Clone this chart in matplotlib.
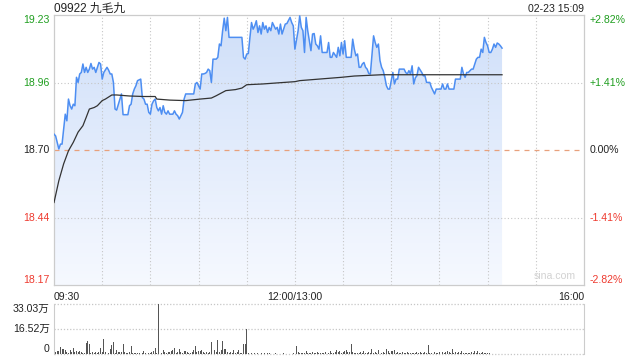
import numpy as np
import matplotlib.pyplot as plt
from matplotlib.patches import Polygon
from matplotlib.colors import LinearSegmentedColormap

plt.rcParams['font.family'] = ['Liberation Sans', 'Noto Sans CJK SC', 'DejaVu Sans']

stock_title = '09922 九毛九'
stamp = '02-23 15:09'
prev_close = 18.70
price_labels = ['19.23', '18.96', '18.70', '18.44', '18.17']
pct_labels = ['+2.82%', '+1.41%', '0.00%', '-1.41%', '-2.82%']
pct_levels = [2.82, 1.41, 0.0, -1.41, -2.82]
time_labels = ['09:30', '12:00/13:00', '16:00']
vol_labels = ['33.03万', '16.52万', '0']
vol_levels = [33.03, 16.52, 0]

# minute index since 09:30 (lunch break removed) and last price
price_minute = [0, 1, 3, 4, 5, 7, 8, 9, 10, 11, 12, 13, 14, 15, 16, 17, 18, 19, 20, 21,
                22, 23, 24, 25, 26, 28, 29, 30, 31, 33, 34, 35, 36, 37, 38, 39, 41, 42, 43, 46,
                47, 48, 49, 50, 51, 52, 54, 55, 56, 57, 58, 59, 60, 61, 62, 63, 64, 65, 66, 67,
                68, 69, 70, 71, 72, 74, 75, 76, 77, 78, 79, 80, 81, 82, 84, 87, 88, 89, 90, 91,
                92, 93, 94, 95, 96, 97, 98, 99, 101, 102, 103, 104, 105, 106, 107, 108, 109, 117, 118, 119,
                120, 121, 122, 123, 124, 125, 126, 127, 128, 129, 130, 131, 132, 133, 134, 135, 136, 137, 138, 139,
                140, 141, 142, 143, 144, 145, 147, 148, 149, 150, 152, 153, 154, 155, 156, 157, 158, 159, 160, 161,
                162, 163, 164, 165, 166, 167, 170, 171, 172, 173, 174, 176, 177, 178, 179, 180, 181, 182, 185, 186,
                187, 188, 189, 190, 191, 192, 193, 194, 195, 196, 197, 199, 200, 201, 202, 203, 204, 205, 206, 207,
                208, 209, 210, 211, 212, 213, 214, 215, 218, 219, 220, 221, 222, 223, 224, 225, 226, 227, 229, 230,
                231, 232, 234, 235, 236, 237, 238, 241, 242, 243, 244, 245, 246, 249, 250, 253, 254, 255, 256, 257,
                258, 260, 261, 262, 263, 264, 265, 266, 267, 268, 269, 270, 271, 272, 273, 274, 275, 276, 277, 278,
                279]
price_value = [18.762, 18.755, 18.704, 18.723, 18.723, 18.840, 18.814, 18.899, 18.873, 18.860,
               18.879, 18.873, 18.984, 18.964, 18.997, 19.003, 19.036, 19.003, 19.023, 19.003,
               19.016, 19.038, 19.016, 19.023, 19.003, 19.042, 19.036, 18.977, 19.003, 19.023,
               19.012, 18.997, 18.997, 18.964, 18.860, 18.856, 18.899, 18.919, 18.838, 18.838,
               18.873, 18.879, 18.919, 18.938, 18.951, 18.971, 18.977, 18.905, 18.899, 18.879,
               18.879, 18.847, 18.840, 18.879, 18.892, 18.899, 18.866, 18.853, 18.866, 18.840,
               18.873, 18.847, 18.840, 18.853, 18.840, 18.840, 18.853, 18.840, 18.834, 18.821,
               18.834, 18.847, 18.899, 18.919, 18.919, 18.919, 18.958, 18.964, 18.951, 18.938,
               18.997, 18.997, 18.999, 19.003, 19.016, 19.010, 18.964, 19.055, 19.055, 19.062,
               19.114, 19.107, 19.166, 19.215, 19.166, 19.218, 19.140, 19.140, 19.062, 19.055,
               19.075, 19.077, 19.140, 19.198, 19.172, 19.185, 19.205, 19.159, 19.185, 19.153,
               19.198, 19.172, 19.185, 19.159, 19.179, 19.166, 19.198, 19.185, 19.172, 19.179,
               19.153, 19.192, 19.153, 19.172, 19.192, 19.194, 19.218, 19.198, 19.185, 19.094,
               19.166, 19.224, 19.179, 19.166, 19.081, 19.218, 19.166, 19.127, 19.088, 19.153,
               19.155, 19.114, 19.107, 19.094, 19.146, 19.081, 19.081, 19.120, 19.062, 19.062,
               19.081, 19.062, 19.101, 19.068, 19.120, 19.075, 19.127, 19.062, 19.062, 19.133,
               19.094, 19.068, 19.075, 19.023, 19.023, 19.036, 19.042, 19.023, 19.016, 18.999,
               18.997, 19.146, 19.120, 19.101, 19.114, 19.049, 19.023, 19.010, 18.984, 18.951,
               18.938, 18.938, 18.971, 19.003, 18.958, 18.977, 18.977, 19.016, 19.016, 19.003,
               18.997, 19.010, 18.997, 19.029, 18.958, 18.982, 18.990, 19.023, 19.003, 18.990,
               18.990, 18.964, 18.964, 18.945, 18.932, 18.919, 18.938, 18.938, 18.958, 18.938,
               18.938, 18.958, 18.938, 18.938, 18.977, 18.977, 19.023, 18.997, 18.984, 19.003,
               19.003, 19.016, 19.016, 19.036, 19.055, 19.062, 19.062, 19.094, 19.081, 19.140,
               19.120, 19.107, 19.081, 19.081, 19.094, 19.114, 19.101, 19.118, 19.114, 19.107,
               19.098]

# average price line
avg_minute = [0, 3, 6, 9, 12, 15, 18, 20, 22, 25, 27, 30, 32, 36, 39, 47, 56, 63, 64, 72,
              82, 91, 98, 101, 107, 113, 117, 120, 130, 141, 150, 153, 179, 187, 204, 254, 279]
avg_value = [18.495, 18.580, 18.646, 18.697, 18.730, 18.770, 18.795, 18.827, 18.860, 18.866,
             18.873, 18.893, 18.899, 18.915, 18.915, 18.911, 18.909, 18.909, 18.899, 18.895,
             18.893, 18.899, 18.903, 18.912, 18.932, 18.936, 18.942, 18.955, 18.958, 18.963,
             18.967, 18.971, 18.984, 18.989, 18.994, 18.994, 18.994]

# volume per minute, in 万 shares
vol_am = [8.4, 1.8, 2.2, 2.4, 5.1, 3.5, 3.3, 2.9, 1.8, 1.1, 2.9, 1.8, 4.6, 1.8, 2.2, 1.8, 2.2, 1.8, 1.3, 1.1,
          7.7, 9.0, 6.8, 1.3, 1.8, 1.3, 1.8, 1.3, 1.8, 4.0, 1.8, 10.1, 1.8, 1.1, 1.1, 3.5, 6.2, 8.2, 1.1, 2.9,
          1.8, 1.8, 1.8, 6.8, 1.8, 1.1, 0.7, 1.8, 5.5, 1.1, 0.7, 0.7, 0.9, 0.7, 0.2, 0.7, 2.4, 0.7, 0.2, 0.7,
          0.7, 1.8, 2.2, 4.0, 1.1, 33.03, 1.1, 1.3, 2.9, 1.8, 1.1, 1.8, 1.8, 2.2, 2.9, 4.0, 1.1, 1.8, 3.3, 1.8,
          1.3, 2.4, 2.4, 1.8, 1.1, 1.3, 1.8, 2.9, 5.5, 1.8, 2.4, 2.4, 2.9, 1.8, 1.3, 1.8, 1.3, 1.8, 7.9, 1.3,
          2.9, 1.8, 9.5, 1.8, 2.9, 8.8, 3.5, 3.5, 1.8, 1.1, 1.8, 1.3, 2.9, 1.1, 1.8, 2.9, 1.3, 0.9, 6.6, 6.8,
          16.7, 0.7, 0.4, 0.9, 0.4, 0.7, 0.2, 0.9, 0.4, 1.1, 0.4, 0.7, 0.4, 0.9, 0.7, 0.4, 0.2, 0.4, 0.7, 0.2,
          0.4, 0.4, 0.2, 0.7, 0.4, 0.2, 0.4, 0.2, 0.4, 0.7, 0.4]
vol_pm = [5.5, 1.8, 1.3, 1.3, 1.1, 1.3, 2.2, 1.1, 1.1, 1.3, 1.8, 1.3, 1.1, 1.8, 1.3, 1.3, 1.1, 1.3, 1.8, 1.3,
          1.3, 2.4, 1.3, 1.1, 1.8, 2.9, 1.8, 2.4, 1.3, 1.8, 2.4, 2.9, 1.8, 1.8, 6.8, 1.8, 1.3, 1.3, 1.1, 1.3,
          1.8, 1.3, 2.2, 1.3, 1.1, 1.8, 1.3, 3.5, 1.3, 1.8, 1.3, 2.9, 1.8, 1.3, 1.8, 1.3, 3.3, 2.2, 1.3, 2.4,
          2.2, 2.9, 1.3, 1.8, 1.3, 1.3, 1.8, 1.3, 1.3, 1.8, 1.3, 1.3, 1.3, 1.3, 1.3, 1.8, 1.3, 1.8, 1.3, 1.3,
          1.8, 1.3, 6.2, 1.3, 1.3, 1.3, 1.8, 1.3, 1.3, 1.8, 5.1, 1.8, 1.3, 1.8, 2.4, 1.8, 1.3, 3.5, 1.3, 1.8,
          1.3, 1.8, 1.3, 2.2, 1.3, 1.1, 0.7, 1.1, 1.3, 1.8, 1.3, 2.2, 1.3, 2.2, 1.3, 1.1, 1.8, 1.1, 1.3, 0.7,
          0.7, 0.4, 0.2, 0.2, 0.2, 0.2, 0.2, 0.2, 0.2]

green = '#1f9e1f'
red = '#ee3a2f'
grid_c = '#c6c6c6'
frame_c = '#cccccc'
fs = 7.6

ylo = prev_close * (1 - 0.0282)
yhi = prev_close * (1 + 0.0282)
total_min = 330

fig = plt.figure(figsize=(6.4, 3.6), dpi=100)
ax = fig.add_axes([0.0844, 0.2083, 0.828, 0.75])
axv = fig.add_axes([0.0844, 0.0153, 0.828, 0.1394])

# main price panel
ax.set_xlim(0, total_min)
ax.set_ylim(ylo, yhi)
ax.set_xticks([])
ax.set_yticks([])
for s in ax.spines.values():
    s.set_color(frame_c)
    s.set_linewidth(0.9)

for m in range(30, total_min, 30):
    ax.axvline(m, color=grid_c, lw=0.8, ls=(0, (1, 2)), zorder=2)
for p in pct_levels[1:-1]:
    lvl = prev_close * (1 + p / 100)
    if p == 0:
        ax.axhline(lvl, color='#e8a07c', lw=0.9, ls=(0, (4, 4)), zorder=2)
    else:
        ax.axhline(lvl, color=grid_c, lw=0.8, ls=(0, (1, 2)), zorder=2)

# gradient area under the price line
verts = list(zip(price_minute, price_value)) + [(price_minute[-1], ylo), (price_minute[0], ylo)]
poly = Polygon(verts, closed=True, facecolor='none', edgecolor='none')
ax.add_patch(poly)
cmap = LinearSegmentedColormap.from_list('fade', ['#f6f9ff', '#cfdff9'])
grad = np.linspace(0, 1, 256).reshape(-1, 1)
img = ax.imshow(grad, cmap=cmap, origin='lower', aspect='auto',
                extent=[0, total_min, ylo, yhi], zorder=1)
img.set_clip_path(poly)

ax.plot(price_minute, price_value, color='#4d8ef2', lw=1.1, zorder=4)
ax.plot(avg_minute, avg_value, color='#333333', lw=0.9, zorder=5)

# y labels on both sides
for i, (lab, pl, p) in enumerate(zip(price_labels, pct_labels, pct_levels)):
    lvl = prev_close * (1 + p / 100)
    col = green if p > 0 else (red if p < 0 else '#222222')
    va = 'top' if i == 0 else ('bottom' if i == len(pct_levels) - 1 else 'center')
    ax.text(-0.008, lvl, lab, transform=ax.get_yaxis_transform(), ha='right', va=va,
            color=col, fontsize=fs)
    ax.text(1.01, lvl, pl, transform=ax.get_yaxis_transform(), ha='left', va=va,
            color=col, fontsize=fs)

# time labels
ax.text(0, -0.025, time_labels[0], transform=ax.get_xaxis_transform(), ha='left', va='top',
        fontsize=fs, color='#222222')
ax.text(150, -0.025, time_labels[1], transform=ax.get_xaxis_transform(), ha='center', va='top',
        fontsize=fs, color='#222222')
ax.text(total_min, -0.025, time_labels[2], transform=ax.get_xaxis_transform(), ha='right', va='top',
        fontsize=fs, color='#222222')

ax.text(0.0, 1.011, stock_title, transform=ax.transAxes, ha='left', va='baseline',
        fontsize=8.5, color='#222222')
ax.text(1.0, 1.011, stamp, transform=ax.transAxes, ha='right', va='baseline',
        fontsize=fs, color='#222222')
ax.text(0.985, 0.015, 'sina.com', transform=ax.transAxes, ha='right', va='bottom',
        fontsize=fs, color='#d2d2d2')

# volume panel
axv.set_xlim(0, total_min)
axv.set_ylim(0, vol_levels[0])
axv.set_xticks([])
axv.set_yticks([])
axv.spines['top'].set_visible(False)
axv.spines['bottom'].set_visible(False)
axv.spines['left'].set_color(frame_c)
axv.spines['right'].set_color(frame_c)
for v in vol_levels:
    axv.axhline(v, color=grid_c, lw=0.9, ls=(0, (1, 1.5)), zorder=1, clip_on=False)

vx_am = np.arange(len(vol_am))
vx_pm = len(vol_am) + np.arange(len(vol_pm))
axv.bar(vx_am, vol_am, width=0.6, color='#555555', zorder=3)
axv.bar(vx_pm, vol_pm, width=0.6, color='#555555', zorder=3)

for i, (lab, v) in enumerate(zip(vol_labels, vol_levels)):
    va = 'top' if i == 0 else ('bottom' if i == len(vol_levels) - 1 else 'center')
    axv.text(-0.008, v, lab, transform=axv.get_yaxis_transform(), ha='right', va=va,
             fontsize=fs, color='#222222')

fig.savefig('out.png', dpi=100)
